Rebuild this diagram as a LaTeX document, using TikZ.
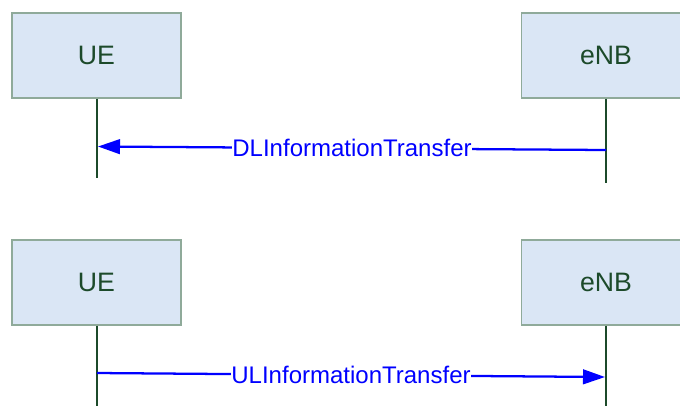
\documentclass[tikz,border=0pt]{standalone}
\usepackage{fontspec}
\setmainfont{Liberation Sans}
\usetikzlibrary{arrows.meta}
\definecolor{boxfill}{HTML}{DAE6F5}
\definecolor{boxline}{HTML}{8FAA9A}
\definecolor{darkgreen}{HTML}{1C4A2A}
\definecolor{msgblue}{HTML}{0000FF}
\tikzset{
  entity/.style={draw=boxline, line width=0.8pt, fill=boxfill, minimum width=126.75pt, minimum height=63.75pt, inner sep=0pt, text=darkgreen, font=\fontsize{20}{24}\selectfont},
  lifeline/.style={draw=darkgreen, line width=1.9pt},
  message/.style={draw=msgblue, line width=1.7pt, -{Triangle[length=16.5pt,width=11pt]}},
  msglabel/.style={fill=white, text=msgblue, inner xsep=0.5pt, inner ysep=1pt, font=\fontsize{18}{22}\selectfont}
}
\begin{document}
\begin{tikzpicture}[x=0.75pt,y=-0.75pt]
\useasboundingbox (0,0) rectangle (680,405);
\clip (0,0) rectangle (680,405);
% top diagram
\node[entity] (ue1) at (96.5,55.5) {UE};
\node[entity] (enb1) at (606,55.5) {eNB};
\coordinate (ue1end) at (97,178);
\coordinate (enb1end) at (606,183);
\draw[lifeline] (ue1.south -| ue1end) -- (ue1end);
\draw[lifeline] (enb1.south -| enb1end) -- (enb1end);
\coordinate (dlstart) at (606,150);
\coordinate (dlend) at (98,146.5);
\draw[message] (dlstart) -- node[msglabel] (dl) {DLInformationTransfer} (dlend);
% bottom diagram
\node[entity] (ue2) at (96.5,282.5) {UE};
\node[entity] (enb2) at (606,282.5) {eNB};
\coordinate (ue2end) at (97,410);
\coordinate (enb2end) at (606,410);
\draw[lifeline] (ue2.south -| ue2end) -- (ue2end);
\draw[lifeline] (enb2.south -| enb2end) -- (enb2end);
\coordinate (ulstart) at (97,373);
\coordinate (ulend) at (605,377);
\draw[message] (ulstart) -- node[msglabel] (ul) {ULInformationTransfer} (ulend);
\end{tikzpicture}
\end{document}
